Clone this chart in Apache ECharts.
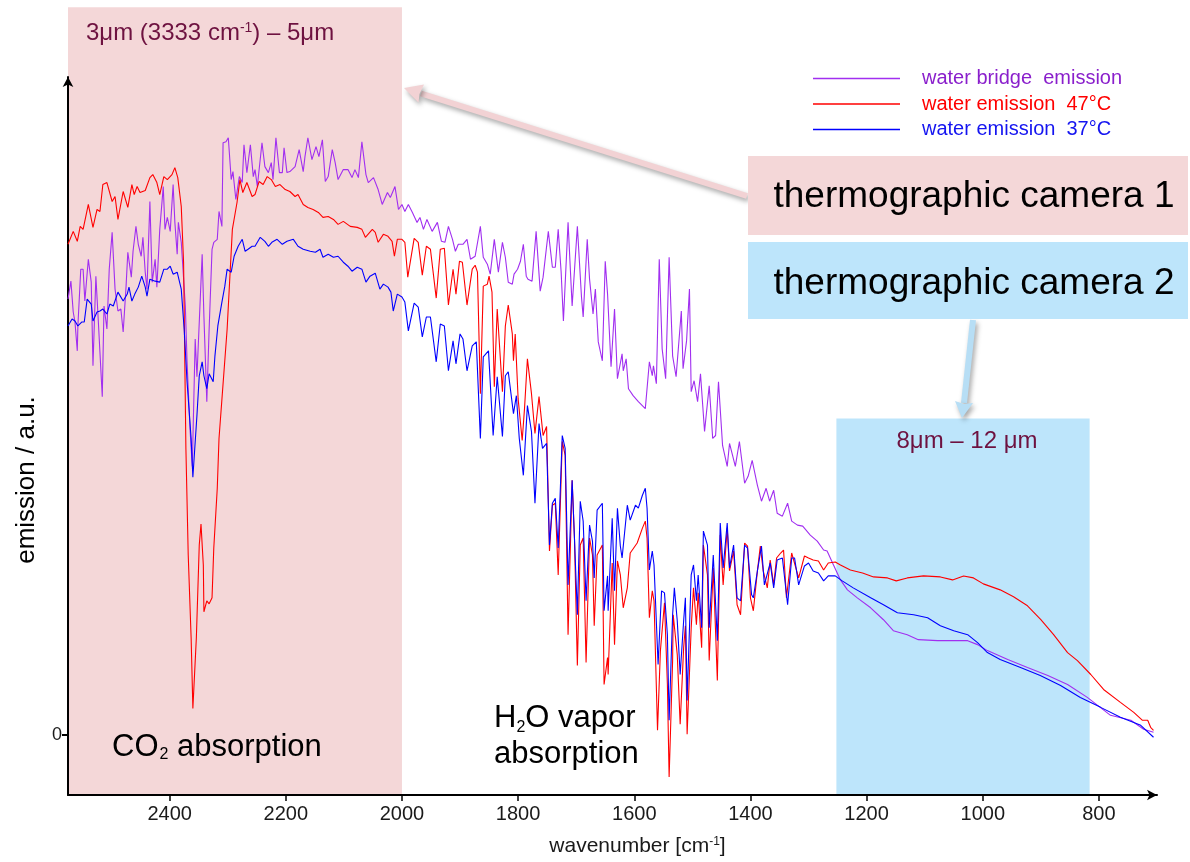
<!DOCTYPE html>
<html>
<head>
<meta charset="utf-8">
<script src="https://cdn.jsdelivr.net/npm/echarts@6.0.0/dist/echarts.min.js"></script>
<style>
html, body { margin: 0; padding: 0; background: #fff; }
#chart { width: 1190px; height: 862px; }
</style>
</head>
<body>
<div id="chart"></div>
<script>
var FONT = '"Liberation Sans", Arial, sans-serif';

// legend / series
var seriesNames = ['water bridge  emission', 'water emission  47°C', 'water emission  37°C'];
var lineColors = ['#a12ff0', '#ff0000', '#0000ff'];
var textColors = ['#8a1fcc', '#ff0000', '#1414f0'];

// [wavenumber cm-1, emission a.u.]
var bridgeData = [
  [2575,438],[2570,456],[2566,425],[2563,415],[2559,386],[2558,411],[2553,468],[2549,468],[2546,436],[2540,478],
  [2535,455],[2532,371],[2527,461],[2523,418],[2516,340],[2513,431],[2508,408],[2504,468],[2499,505],[2494,448],
  [2489,426],[2484,428],[2480,405],[2475,451],[2472,485],[2466,460],[2463,486],[2458,511],[2454,493],[2449,481],
  [2446,500],[2442,465],[2439,448],[2434,536],[2430,455],[2425,478],[2422,450],[2417,508],[2411,551],[2408,508],
  [2404,520],[2399,506],[2394,553],[2391,515],[2387,483],[2385,515],[2380,495],[2377,468],[2373,431],[2370,375],
  [2365,308],[2361,270],[2356,398],[2353,360],[2344,483],[2341,421],[2336,335],[2332,408],[2327,488],[2324,495],
  [2318,498],[2315,526],[2310,511],[2308,595],[2303,596],[2299,600],[2294,558],[2291,566],[2286,538],[2280,561],
  [2275,555],[2272,593],[2267,565],[2261,593],[2256,561],[2253,568],[2249,551],[2241,595],[2236,571],[2230,565],
  [2225,575],[2222,558],[2217,600],[2211,565],[2206,565],[2203,590],[2198,565],[2193,566],[2184,571],[2177,588],
  [2170,566],[2167,581],[2162,600],[2155,578],[2148,591],[2143,581],[2137,598],[2132,556],[2127,561],[2120,588],
  [2115,575],[2110,558],[2101,568],[2093,568],[2086,560],[2081,568],[2075,560],[2069,596],[2062,563],[2058,555],
  [2049,560],[2041,548],[2034,533],[2025,545],[2020,540],[2012,551],[2006,528],[2000,533],[1995,526],[1989,533],
  [1982,525],[1974,515],[1969,520],[1963,508],[1957,518],[1948,506],[1939,515],[1932,496],[1926,495],[1920,511],
  [1913,498],[1908,486],[1903,493],[1895,493],[1888,498],[1882,478],[1874,481],[1865,511],[1860,480],[1853,473],
  [1848,463],[1841,498],[1834,465],[1827,495],[1822,480],[1817,455],[1810,453],[1807,463],[1801,468],[1796,476],
  [1791,493],[1786,461],[1783,458],[1776,456],[1769,506],[1762,446],[1757,460],[1748,506],[1741,470],[1736,470],
  [1731,508],[1726,466],[1722,416],[1714,515],[1707,431],[1698,511],[1691,441],[1688,420],[1681,498],[1677,458],
  [1671,423],[1667,448],[1662,395],[1655,376],[1650,476],[1646,443],[1640,370],[1634,428],[1629,358],[1621,383],
  [1619,366],[1614,378],[1610,348],[1602,341],[1593,335],[1581,328],[1578,330],[1574,375],[1569,361],[1567,371],
  [1562,353],[1557,478],[1552,388],[1546,358],[1540,480],[1534,381],[1528,360],[1519,426],[1516,368],[1510,396],
  [1505,448],[1502,345],[1497,356],[1491,335],[1486,363],[1479,305],[1471,351],[1465,298],[1460,301],[1455,355],
  [1448,291],[1440,270],[1436,293],[1426,270],[1419,295],[1410,253],[1404,260],[1397,276],[1388,251],[1381,235],
  [1373,248],[1367,235],[1360,246],[1354,223],[1345,220],[1336,233],[1329,215],[1319,211],[1310,210],[1297,201],
  [1285,195],[1274,186],[1268,185],[1257,171],[1245,156],[1233,146],[1216,138],[1193,128],[1171,116],[1154,105],
  [1130,101],[1111,96],[1078,95],[1050,95],[1026,95],[1009,91],[992,85],[957,76],[923,68],[888,60],
  [854,51],[820,38],[780,20],[745,15],[723,6],[706,3]
];

var water47Data = [
  [2575,493],[2566,506],[2559,496],[2554,511],[2549,508],[2540,533],[2532,510],[2525,528],[2520,526],[2515,553],
  [2508,555],[2499,536],[2494,541],[2489,518],[2480,546],[2472,530],[2465,553],[2461,543],[2456,551],[2451,545],
  [2442,547],[2434,560],[2429,563],[2422,555],[2417,543],[2410,561],[2404,558],[2396,563],[2391,570],[2386,560],
  [2380,531],[2376,475],[2372,288],[2368,181],[2363,98],[2360,27],[2354,98],[2349,191],[2346,212],[2342,171],
  [2341,124],[2336,135],[2332,132],[2327,138],[2324,188],[2318,248],[2315,298],[2301,408],[2292,508],[2284,535],
  [2279,558],[2274,545],[2267,555],[2258,541],[2253,543],[2246,556],[2239,553],[2232,561],[2225,558],[2218,551],
  [2210,553],[2201,548],[2193,546],[2184,541],[2179,543],[2170,533],[2162,530],[2153,528],[2144,525],[2136,520],
  [2127,521],[2118,518],[2110,513],[2101,516],[2089,511],[2077,510],[2069,508],[2063,500],[2051,508],[2046,505],
  [2041,495],[2032,503],[2024,501],[2017,496],[2013,481],[2008,498],[2000,498],[1995,495],[1990,460],[1979,499],
  [1972,495],[1965,462],[1958,491],[1951,488],[1948,490],[1941,439],[1934,488],[1927,489],[1920,432],[1912,468],
  [1907,443],[1901,476],[1896,475],[1888,432],[1879,468],[1874,472],[1870,465],[1865,343],[1860,451],[1853,453],
  [1850,461],[1845,445],[1841,350],[1836,428],[1834,426],[1827,345],[1822,411],[1817,432],[1810,403],[1808,376],
  [1805,403],[1800,338],[1793,296],[1789,328],[1784,378],[1777,343],[1771,303],[1764,340],[1757,301],[1751,310],
  [1746,185],[1741,231],[1736,233],[1731,161],[1724,295],[1719,281],[1714,101],[1707,256],[1703,198],[1698,70],
  [1693,191],[1688,198],[1683,73],[1677,198],[1672,181],[1669,110],[1664,181],[1655,191],[1652,51],[1646,78],
  [1645,61],[1638,173],[1634,91],[1629,175],[1624,161],[1619,128],[1612,148],[1607,183],[1595,193],[1586,208],
  [1581,215],[1578,198],[1574,118],[1569,145],[1566,135],[1560,5],[1555,85],[1548,133],[1543,51],[1540,-42],
  [1534,75],[1533,121],[1526,81],[1521,11],[1515,88],[1512,110],[1509,1],[1502,108],[1498,148],[1493,111],
  [1490,143],[1484,88],[1481,191],[1474,161],[1471,75],[1464,168],[1457,55],[1452,201],[1447,151],[1440,208],
  [1436,165],[1429,185],[1423,131],[1417,121],[1410,193],[1405,190],[1400,138],[1395,125],[1388,165],[1383,190],
  [1378,165],[1371,148],[1366,176],[1360,151],[1355,178],[1348,183],[1343,186],[1338,138],[1329,183],[1326,185],
  [1317,158],[1307,180],[1300,178],[1292,176],[1283,175],[1274,166],[1266,173],[1254,174],[1245,171],[1228,166],
  [1207,163],[1188,159],[1164,158],[1149,155],[1130,158],[1102,160],[1073,159],[1052,156],[1033,160],[1016,158],
  [999,152],[970,146],[947,139],[923,130],[900,116],[878,101],[854,83],[837,75],[814,61],[792,46],
  [763,33],[740,23],[725,15],[716,15],[711,8],[706,5]
];

var water37Data = [
  [2575,411],[2568,418],[2563,416],[2558,411],[2551,415],[2547,415],[2542,438],[2535,433],[2532,416],[2525,425],
  [2520,426],[2515,428],[2508,423],[2503,433],[2497,431],[2489,445],[2480,436],[2473,443],[2470,450],[2465,436],
  [2460,443],[2454,450],[2448,461],[2442,450],[2439,441],[2434,458],[2425,456],[2417,455],[2410,468],[2404,468],
  [2399,471],[2394,463],[2387,465],[2380,448],[2375,408],[2370,355],[2363,298],[2360,259],[2353,321],[2349,361],
  [2344,375],[2341,361],[2336,348],[2332,363],[2325,355],[2322,381],[2317,411],[2310,435],[2305,451],[2301,468],
  [2294,465],[2289,481],[2282,491],[2275,498],[2270,486],[2265,488],[2258,491],[2253,491],[2244,500],[2236,496],
  [2230,491],[2224,495],[2215,498],[2206,493],[2198,496],[2187,498],[2179,491],[2170,488],[2158,486],[2149,485],
  [2141,488],[2136,480],[2127,483],[2118,480],[2110,481],[2101,475],[2093,471],[2086,466],[2077,470],[2069,468],
  [2062,455],[2055,461],[2046,464],[2038,448],[2032,453],[2024,450],[2019,445],[2015,426],[2008,443],[2000,440],
  [1995,435],[1989,406],[1979,434],[1972,430],[1965,400],[1958,420],[1951,420],[1941,375],[1934,413],[1927,411],
  [1920,366],[1912,396],[1907,373],[1900,403],[1895,398],[1888,366],[1879,391],[1872,395],[1865,298],[1860,380],
  [1851,386],[1843,301],[1836,360],[1827,300],[1822,361],[1817,365],[1808,323],[1803,341],[1798,298],[1791,261],
  [1784,331],[1777,305],[1771,233],[1764,313],[1758,288],[1751,293],[1746,191],[1741,233],[1736,238],[1731,188],
  [1724,301],[1719,288],[1714,151],[1707,256],[1703,198],[1698,121],[1693,235],[1688,215],[1683,135],[1677,211],
  [1672,195],[1669,158],[1664,226],[1655,233],[1652,125],[1646,160],[1645,125],[1638,218],[1634,145],[1629,228],
  [1624,190],[1621,178],[1612,231],[1607,216],[1598,231],[1593,228],[1586,241],[1581,248],[1578,228],[1574,166],
  [1569,185],[1566,171],[1559,71],[1553,145],[1548,143],[1543,101],[1540,15],[1534,121],[1531,148],[1526,115],
  [1521,61],[1515,115],[1512,138],[1509,35],[1502,161],[1498,171],[1493,135],[1490,161],[1484,108],[1481,205],
  [1474,191],[1471,108],[1464,181],[1457,95],[1452,213],[1447,168],[1440,213],[1436,168],[1429,191],[1423,138],
  [1417,135],[1410,191],[1405,188],[1398,141],[1395,138],[1388,165],[1381,190],[1376,151],[1366,173],[1360,148],
  [1354,176],[1345,178],[1336,131],[1329,178],[1324,178],[1317,151],[1307,170],[1300,173],[1292,165],[1283,163],
  [1274,155],[1266,160],[1254,160],[1242,155],[1223,148],[1193,138],[1171,131],[1147,123],[1119,121],[1095,118],
  [1073,110],[1050,105],[1026,101],[1009,93],[992,83],[970,76],[935,68],[901,60],[866,50],[832,38],
  [797,28],[763,18],[728,10],[706,-2]
];

// axes
var xMin = 700, xMax = 2575;
var yMin = -60, yMax = 661;
var xTicks = [800, 1000, 1200, 1400, 1600, 1800, 2000, 2200, 2400];
var yTicks = [0];

// shaded camera windows: wavenumber range and top of the shading (a.u.)
var bands = [
  { from: 2575, to: 2000, top: 731, fill: '#f4d7d8' },
  { from: 1252, to: 816, top: 318, fill: '#bde5fb' }
];

var chart = echarts.init(document.getElementById('chart'));

var series = [bridgeData, water47Data, water37Data].map(function (d, i) {
  return {
    name: seriesNames[i],
    type: 'line',
    data: d,
    symbol: 'none',
    showSymbol: false,
    lineStyle: { color: lineColors[i], width: 1.1 },
    itemStyle: { color: lineColors[i] },
    z: 3 + i
  };
});

chart.setOption({
  animation: false,
  backgroundColor: '#fff',
  textStyle: { fontFamily: FONT },
  grid: { left: 68, right: 33, top: 77, bottom: 64 },
  legend: {
    orient: 'vertical',
    left: 808,
    top: 63,
    icon: 'rect',
    itemWidth: 87,
    itemHeight: 1.3,
    itemGap: 4.5,
    selectedMode: false,
    data: seriesNames.map(function (n, i) {
      return { name: n, textStyle: { color: textColors[i] } };
    }),
    textStyle: { fontSize: 20, lineHeight: 21, fontFamily: FONT, padding: [0, 0, 0, 17] }
  },
  xAxis: {
    type: 'value',
    inverse: true,
    min: xMin,
    max: xMax,
    name: 'wavenumber [cm{sup|-1}]',
    nameLocation: 'middle',
    nameGap: 41,
    nameTextStyle: {
      fontSize: 21, color: '#1a1a1a', fontFamily: FONT, padding: [0, 0, 0, 50],
      rich: { sup: { fontSize: 12, verticalAlign: 'top', color: '#1a1a1a' } }
    },
    splitLine: { show: false },
    axisLine: {
      onZero: false,
      lineStyle: { color: '#000', width: 2 },
      symbol: ['none', 'arrow'],
      symbolSize: [8, 10]
    },
    axisTick: { customValues: xTicks, length: 6, lineStyle: { color: '#000', width: 1.5 } },
    axisLabel: {
      customValues: xTicks, fontSize: 20, color: '#1a1a1a', margin: 9, fontFamily: FONT,
      formatter: function (v) { return String(v); }
    }
  },
  yAxis: {
    type: 'value',
    min: yMin,
    max: yMax,
    name: 'emission / a.u.',
    nameLocation: 'middle',
    nameGap: 28,
    nameTextStyle: { fontSize: 26, color: '#000', fontFamily: FONT, padding: [0, 88, 0, 0] },
    splitLine: { show: false },
    axisLine: {
      lineStyle: { color: '#000', width: 2 },
      symbol: ['none', 'arrow'],
      symbolSize: [8, 10]
    },
    axisTick: { customValues: yTicks, length: 6, lineStyle: { color: '#000', width: 2 } },
    axisLabel: { customValues: yTicks, fontSize: 18, color: '#1a1a1a', margin: 6, fontFamily: FONT }
  },
  series: series
});

function px(w, v) {
  return chart.convertToPixel({ gridIndex: 0 }, [w, v]);
}

var graphics = [];
bands.forEach(function (b) {
  var p1 = px(b.from, b.top), p2 = px(b.to, yMin);
  graphics.push({
    type: 'rect', z: -10, silent: true,
    shape: { x: p1[0], y: p1[1], width: p2[0] - p1[0], height: p2[1] - p1[1] },
    style: { fill: b.fill }
  });
});

var maroon = '#6e1240';
var pinkTop = px(2575, 731), blueTop = px(1252, 318), blueRight = px(816, 318);

graphics.push(
  {
    type: 'text', z: 20, x: pinkTop[0] + 18, y: pinkTop[1] + 26,
    style: {
      text: '3μm (3333 cm{sup|-1}) – 5μm', fill: maroon, font: '24px ' + FONT, verticalAlign: 'middle',
      rich: { sup: { fontSize: 14, verticalAlign: 'top', fill: maroon } }
    }
  },
  {
    type: 'text', z: 20, x: (blueTop[0] + blueRight[0]) / 2 + 4, y: blueTop[1] + 23,
    style: { text: '8μm – 12 μm', fill: maroon, font: '24px ' + FONT, align: 'center', verticalAlign: 'middle' }
  },
  {
    type: 'text', z: 20, x: 112, y: 747,
    style: {
      text: 'CO{sub|2} absorption', fill: '#000', font: '31px ' + FONT, verticalAlign: 'middle',
      rich: { sub: { fontSize: 16, verticalAlign: 'bottom', fill: '#000', padding: [0, 0, 0, 1] } }
    }
  },
  {
    type: 'text', z: 20, x: 494, y: 736,
    style: {
      text: 'H{sub|2}O vapor\nabsorption', fill: '#000', font: '31px ' + FONT, verticalAlign: 'middle',
      lineHeight: 36,
      rich: { sub: { fontSize: 16, verticalAlign: 'bottom', fill: '#000', lineHeight: 36 } }
    }
  },
  // camera boxes
  { type: 'rect', z: 20, shape: { x: 748, y: 156, width: 440, height: 79 }, style: { fill: '#f4d7d8' } },
  {
    type: 'text', z: 21, x: 974, y: 197,
    style: { text: 'thermographic camera 1', fill: '#000', font: '37px ' + FONT, align: 'center', verticalAlign: 'middle' }
  },
  { type: 'rect', z: 20, shape: { x: 748, y: 242, width: 440, height: 77 }, style: { fill: '#bde5fb' } },
  {
    type: 'text', z: 21, x: 974, y: 284,
    style: { text: 'thermographic camera 2', fill: '#000', font: '37px ' + FONT, align: 'center', verticalAlign: 'middle' }
  },
  // pointer arrows
  {
    type: 'line', z: 19,
    shape: { x1: 747, y1: 196, x2: 421, y2: 93.5 },
    style: { stroke: '#f2d2d4', lineWidth: 6, shadowBlur: 5, shadowColor: 'rgba(0,0,0,0.35)', shadowOffsetX: 2, shadowOffsetY: 3 }
  },
  {
    type: 'polygon', z: 19,
    shape: { points: [[404, 88], [424, 84.5], [419.5, 94], [418.5, 102.5]] },
    style: { fill: '#f2d2d4', shadowBlur: 5, shadowColor: 'rgba(0,0,0,0.35)', shadowOffsetX: 2, shadowOffsetY: 3 }
  },
  {
    type: 'line', z: 19,
    shape: { x1: 973, y1: 320, x2: 964, y2: 403 },
    style: { stroke: '#b7def5', lineWidth: 6, shadowBlur: 5, shadowColor: 'rgba(0,0,0,0.35)', shadowOffsetX: 2, shadowOffsetY: 3 }
  },
  {
    type: 'polygon', z: 19,
    shape: { points: [[962, 418], [955, 401], [964, 404], [973, 403]] },
    style: { fill: '#b7def5', shadowBlur: 5, shadowColor: 'rgba(0,0,0,0.35)', shadowOffsetX: 2, shadowOffsetY: 3 }
  }
);

chart.setOption({ graphic: graphics });
</script>
</body>
</html>
